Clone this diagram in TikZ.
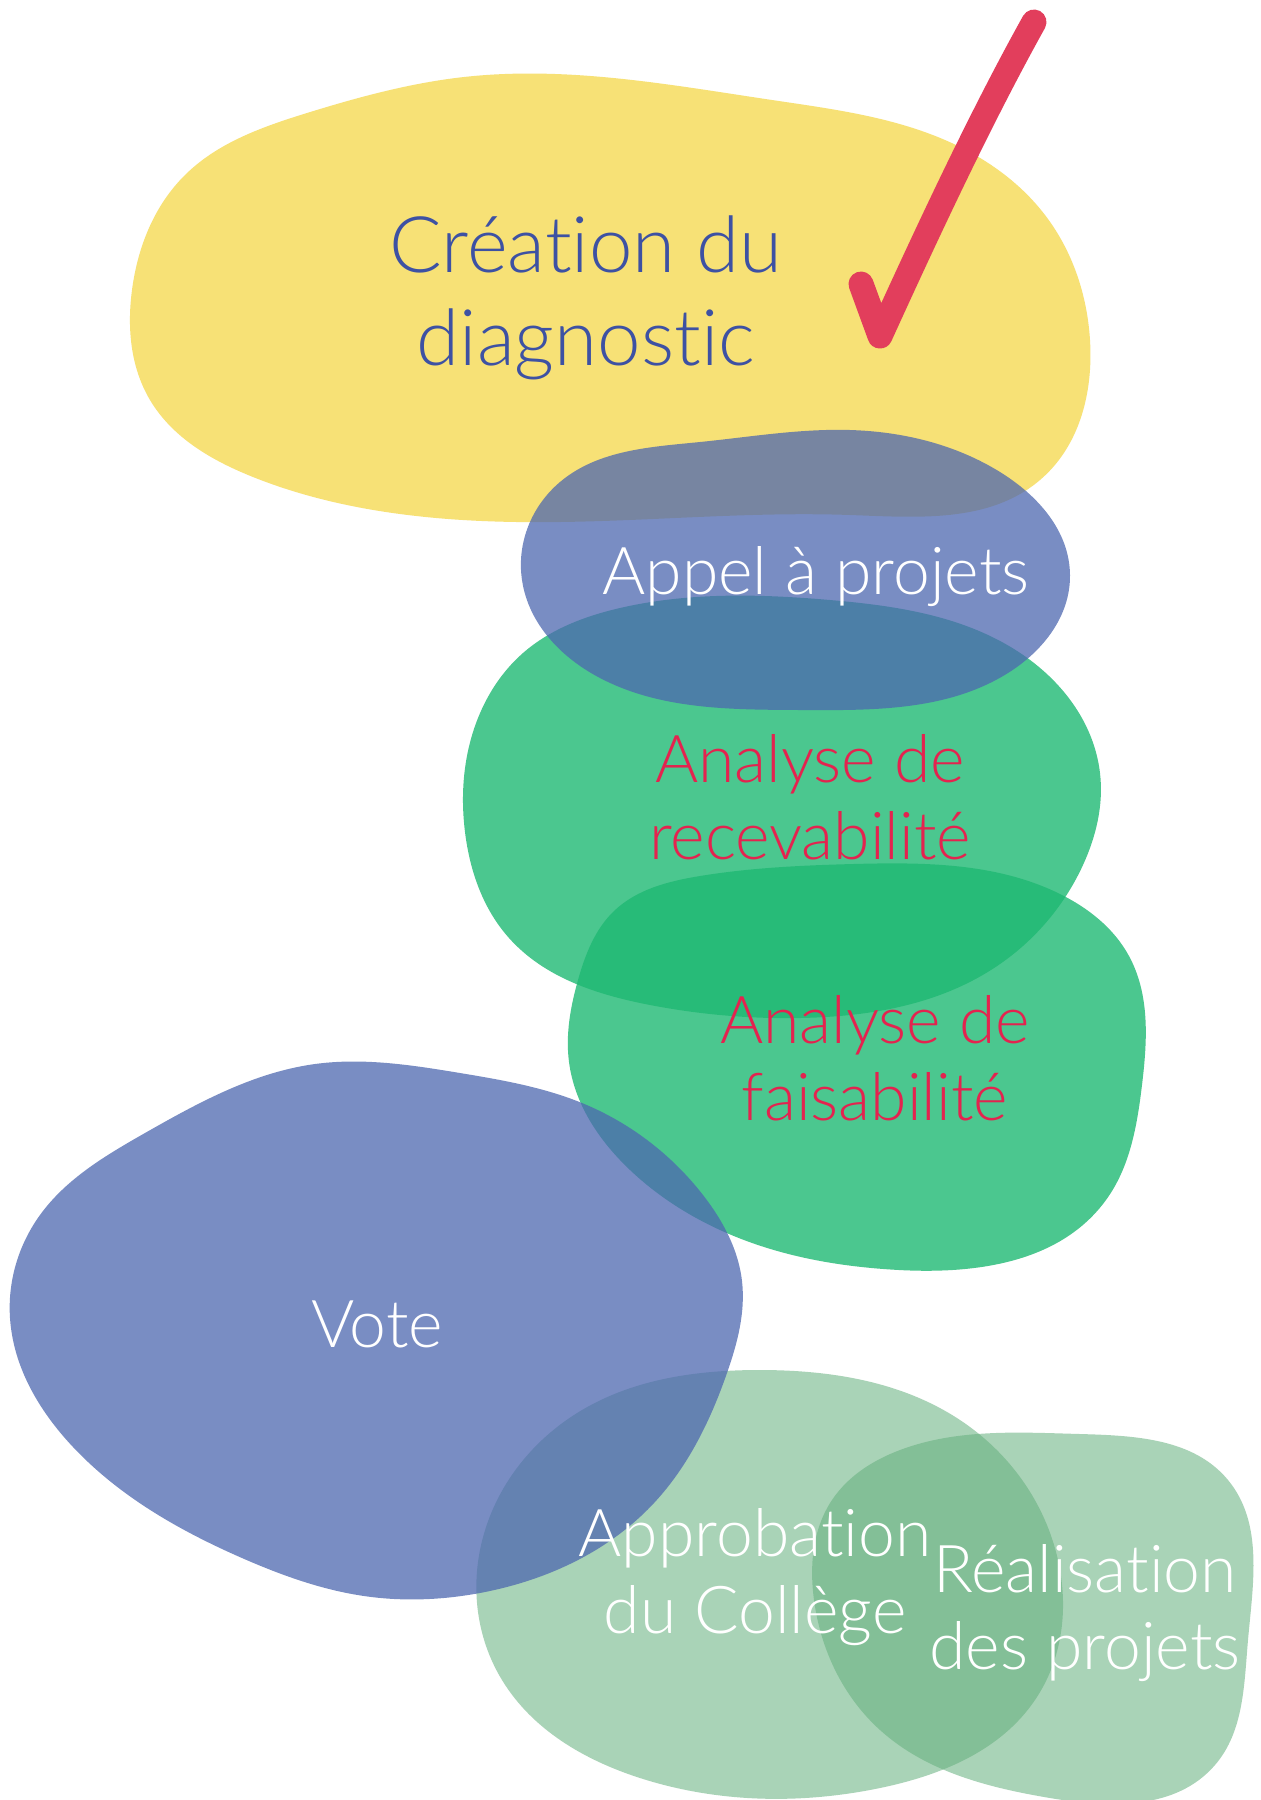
\documentclass[tikz,border=0pt]{standalone}
\usepackage{fontspec}
\usetikzlibrary{hobby}
\setmainfont{Lato}[UprightFont=* Light, Ligatures={NoCommon}, RawFeature={-liga;-dlig}]
\definecolor{cyellow}{RGB}{247,225,118}
\definecolor{cblue}{RGB}{77,103,176}
\definecolor{cgreen}{RGB}{31,185,115}
\definecolor{clgreen}{RGB}{100,175,125}
\definecolor{ctblue}{RGB}{61,81,163}
\definecolor{ctred}{RGB}{228,35,79}
\definecolor{ccheck}{RGB}{226,62,92}
\tikzset{
  blob/.style={use Hobby shortcut, closed=true},
  lbl/.style={align=center, inner sep=0pt, anchor=base},
  big/.style={font=\fontsize{78}{93}\selectfont},
  mid/.style={font=\fontsize{66}{77}\selectfont},
}
\begin{document}
\begin{tikzpicture}[x=1pt,y=-1pt]
\useasboundingbox[fill=white] (0,0) rectangle (1261,1800);
% yellow
\fill[cyellow, blob] (307,113) .. (464,77) .. (772,100) .. (945,140) .. (1045,215) .. (1090,340) .. (1040,480) .. (850,515) .. (560,522) .. (400,514) .. (253,477) .. (150,400) .. (132,290) .. (185,175);
% light greens
\fill[clgreen, opacity=0.55, blob] (582,1410) .. (760,1370) .. (960,1420) .. (1058,1560) .. (1035,1700) .. (880,1788) .. (640,1778) .. (502,1680) .. (480,1550);
\fill[clgreen, opacity=0.55, blob] (900,1450) .. (1080,1434) .. (1228,1480) .. (1248,1640) .. (1215,1765) .. (1050,1798) .. (880,1730) .. (814,1600) .. (832,1500);
% greens
\fill[cgreen, opacity=0.8, blob] (523,653) .. (620,608) .. (830,600) .. (1014,649) .. (1100,773) .. (1083,865) .. (991,970) .. (800,1018) .. (650,1005) .. (509,938) .. (465,832) .. (478,718);
\fill[cgreen, opacity=0.8, blob] (614,911) .. (700,876) .. (853,864) .. (1060,894) .. (1129,956) .. (1142,1085) .. (1106,1200) .. (899,1270) .. (761,1246) .. (630,1170) .. (569,1062) .. (578,980);
% blues
\fill[cblue, opacity=0.75, blob] (560,482) .. (700,442) .. (850,430) .. (1000,472) .. (1070,575) .. (1008,673) .. (800,710) .. (600,678) .. (522,580);
\fill[cblue, opacity=0.75, blob] (145,1133) .. (315,1064) .. (460,1073) .. (582,1103) .. (703,1195) .. (742,1281) .. (727,1373) .. (654,1503) .. (485,1592) .. (364,1596) .. (242,1558) .. (73,1447) .. (10,1318) .. (40,1215);
% check mark
\draw[ccheck, line width=25pt, line cap=round, line join=round] (861,284) -- (880,336) .. controls (935,215) and (985,110) .. (1034,22);
% labels
\node[lbl, big, text=ctblue] (crea) at (586,365) {Création du\\diagnostic};
\node[lbl, mid, text=white] (appel) at (816,594) {Appel à projets};
\node[lbl, mid, text=ctred] (recev) at (810,859) {Analyse de\\recevabilité};
\node[lbl, mid, text=ctred] (faisa) at (875,1120) {Analyse de\\faisabilité};
\node[lbl, mid, text=white] (vote) at (377,1347) {Vote};
\node[lbl, mid, text=white] (appro) at (755,1633) {Approbation\\du Collège};
\node[lbl, mid, text=white] (reali) at (1085,1669) {Réalisation\\des projets};
\end{tikzpicture}
\end{document}
